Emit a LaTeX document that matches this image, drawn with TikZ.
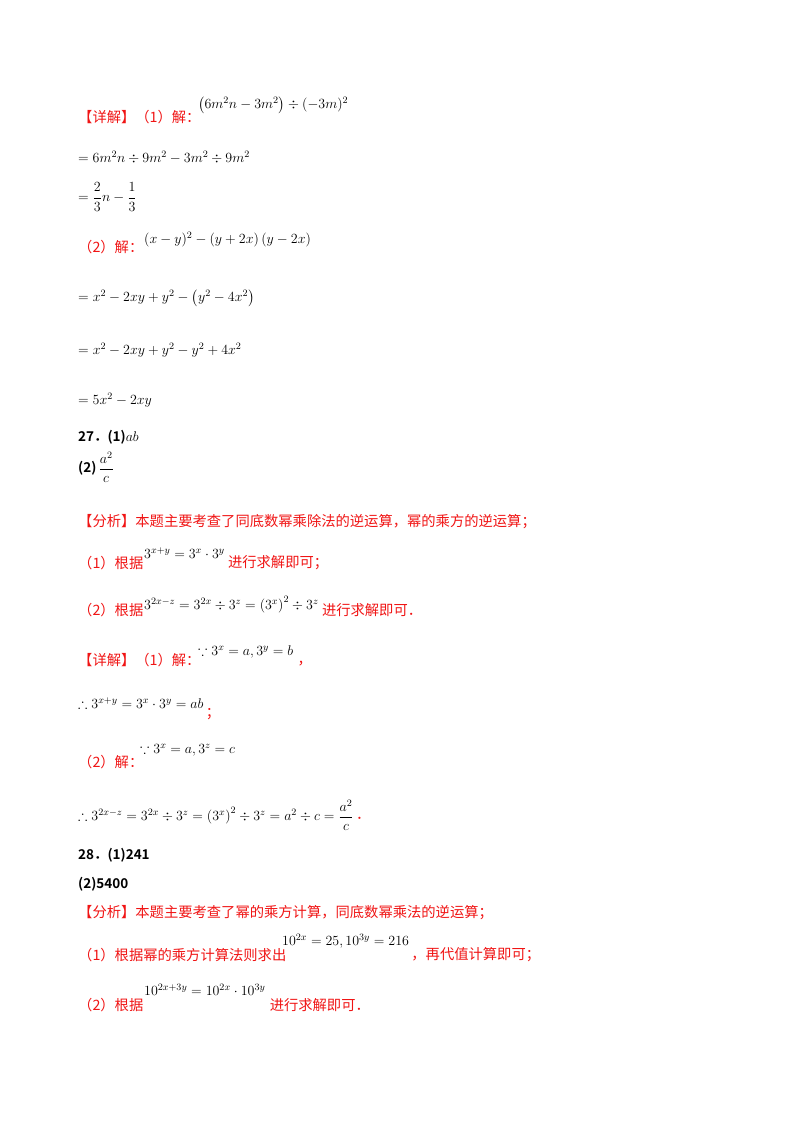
\documentclass[tikz,border=0pt]{standalone}
\usepackage{fix-cm}
\usepackage{amsmath,amssymb}
\usepackage{fontspec}
\setmainfont{Liberation Serif}
\newfontfamily\cjk{Noto Sans CJK SC}
\newfontfamily\cjkb{Noto Sans CJK SC Bold}
\definecolor{rd}{RGB}{240,20,20}
\begin{document}
\begin{tikzpicture}[x=1pt,y=-1pt,
 t/.style={anchor=west,inner sep=0pt,font=\cjk\fontsize{14.3}{16}\selectfont},
 r/.style={t,text=rd},
 m/.style={anchor=west,inner sep=0pt,font=\fontsize{14}{16}\selectfont},
 b/.style={anchor=west,inner sep=0pt,font=\cjkb\fontsize{13.5}{15}\selectfont}]
\useasboundingbox (0,0) rectangle (800,1132);
\node[r] (a1) at (78,117) {【详解】（1）解：};
\node[m] (a2) at (198,105) {$\left(6m^2n-3m^2\right)\div(-3m)^2$};
\node[m] (a3) at (78,157) {$=6m^2n\div9m^2-3m^2\div9m^2$};
\node[m] (a4) at (78,197) {$=\dfrac23n-\dfrac13$};
\node[r] (a5) at (78,247) {（2）解：};
\node[m] (a6) at (144,240) {$(x-y)^2-\left(y+2x\right)\left(y-2x\right)$};
\node[m] (a7) at (78,298) {$=x^2-2xy+y^2-\left(y^2-4x^2\right)$};
\node[m] (a8) at (78,350) {$=x^2-2xy+y^2-y^2+4x^2$};
\node[m] (a9) at (78,400) {$=5x^2-2xy$};
\node[b] (b1) at (78,437) {27．(1)\normalfont\fontsize{14}{16}\selectfont$ab$};
\node[b] (b2) at (78,467) {(2)\,\normalfont\fontsize{14}{16}\selectfont$\dfrac{a^2}{c}$};
\node[r] (b3) at (78,522) {【分析】本题主要考查了同底数幂乘除法的逆运算，幂的乘方的逆运算；};
\node[r] (b4) at (78,563) {（1）根据};
\node[m] (b5) at (144,553) {$3^{x+y}=3^x\cdot3^y$};
\node[r] (b6) at ([xshift=3pt]b5.east |- b4) {进行求解即可；};
\node[r] (b7) at (78,610) {（2）根据};
\node[m] (b8) at (144,605) {$3^{2x-z}=3^{2x}\div3^z=\left(3^x\right)^2\div3^z$};
\node[r] (b9) at ([xshift=3pt]b8.east |- b7) {进行求解即可．};
\node[r] (c1) at (78,660) {【详解】（1）解：};
\node[m] (c2) at (198,652) {$\because3^x=a,3^y=b$};
\node[r] (c3) at ([xshift=4pt]c2.east |- 0,664) {，};
\node[m] (c4) at (78,703) {$\therefore3^{x+y}=3^x\cdot3^y=ab$};
\node[r] (c5) at ([xshift=2pt]c4.east |- 0,714) {；};
\node[r] (c6) at (78,762) {（2）解：};
\node[m] (c7) at (140,750) {$\because3^x=a,3^z=c$};
\node[m] (c8) at (78,815) {$\therefore3^{2x-z}=3^{2x}\div3^z=\left(3^x\right)^2\div3^z=a^2\div c=\dfrac{a^2}{c}$};
\node[r] (c9) at ([xshift=2pt]c8.east |- 0,818) {．};
\node[b] (d1) at (78,855) {28．(1)241};
\node[b] (d2) at (78,884) {(2)5400};
\node[r] (d3) at (78,913) {【分析】本题主要考查了幂的乘方计算，同底数幂乘法的逆运算；};
\node[r] (d4) at (78,955) {（1）根据幂的乘方计算法则求出};
\node[m] (d5) at (282,941) {$10^{2x}=25,10^{3y}=216$};
\node[r] (d6) at ([xshift=2pt]d5.east |- d4) {，再代值计算即可；};
\node[r] (d7) at (78,1005) {（2）根据};
\node[m] (d8) at (144,990) {$10^{2x+3y}=10^{2x}\cdot10^{3y}$};
\node[r] (d9) at ([xshift=4pt]d8.east |- d7) {进行求解即可．};
\end{tikzpicture}
\end{document}
